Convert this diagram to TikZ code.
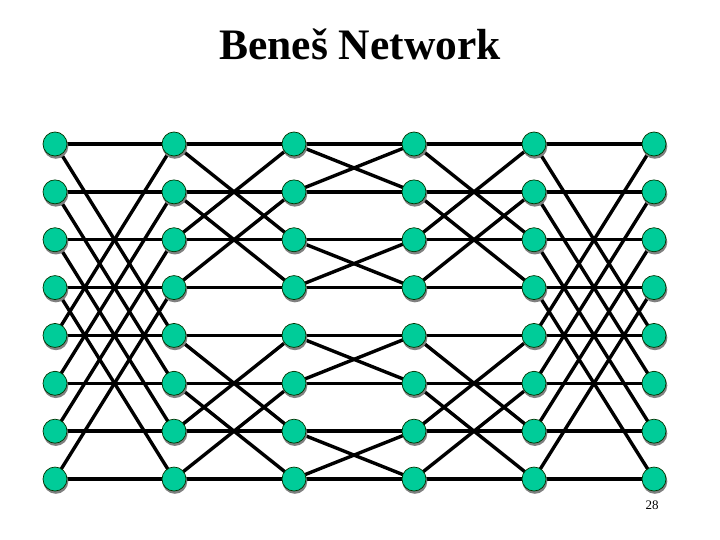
\documentclass[tikz,border=0pt]{standalone}
\usepackage{fontspec}
\setmainfont{Liberation Serif}
\usetikzlibrary{shadows}
\definecolor{nodegreen}{RGB}{0,204,153}
\definecolor{shadowgray}{RGB}{128,128,128}
\begin{document}
\begin{tikzpicture}[x=1pt,y=-1pt,
  sw/.style={circle,minimum size=24pt,inner sep=0pt,fill=nodegreen,draw=black!80!green,line width=0.7pt,
    drop shadow={shadow xshift=0.8pt,shadow yshift=-2.2pt,shadow scale=1.04,fill=shadowgray,opacity=1}},
  wire/.style={line width=3.4pt,black}]
\useasboundingbox (0,0) rectangle (720,540);
\node[font=\bfseries\fontsize{43.5}{50}\selectfont,anchor=base,inner sep=0pt] (title) at (360,59.5) {Beneš Network};
\node[font=\fontsize{13}{15}\selectfont] (page) at (652,505) {28};
% coordinates
\foreach \c/\x in {0/55,1/174,2/294,3/414,4/534,5/654}{
  \foreach \i in {0,...,7}{
    \coordinate (p-\c-\i) at (\x,{144+47.86*\i});
  }
}
% wires
\foreach \c/\d in {0/4,1/2,2/1,3/2,4/4}{
  \pgfmathtruncatemacro{\cn}{\c+1}
  \foreach \i in {0,...,7}{
    \pgfmathtruncatemacro{\j}{\i+\d*(1-2*mod(floor(\i/\d),2))}
    \draw[wire] (p-\c-\i) -- (p-\cn-\i);
    \draw[wire] (p-\c-\i) -- (p-\cn-\j);
  }
}
% switches
\foreach \c in {0,...,5}{
  \foreach \i in {0,...,7}{
    \node[sw] (n-\c-\i) at (p-\c-\i) {};
  }
}
\end{tikzpicture}
\end{document}
